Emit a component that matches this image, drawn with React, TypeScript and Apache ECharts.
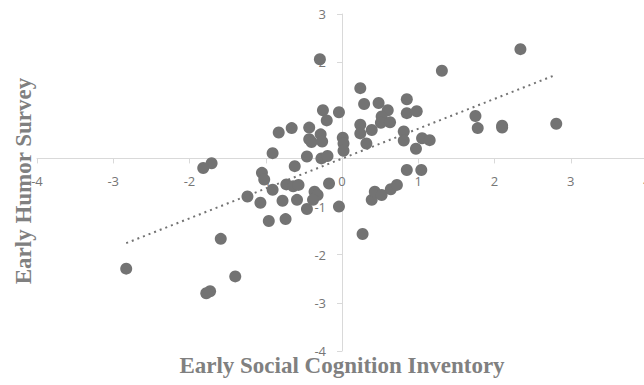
import React, { useEffect, useRef } from "react";
import * as echarts from "echarts";

const xValues = [
  -0.29, 1.31, 2.34, 0.24, 0.29, 0.48, 0.6, 0.85, 0.85, 0.98, -0.25, -0.04, -0.2, 0.52, 0.51, 0.63,
  0.24, 0.24, 0.39, 0.32, 0.81, 0.81, 0.97, 1.05, 1.15, 1.75, 1.78, 2.1, 2.1, 2.81, -0.83, -0.66,
  -0.43, -0.43, -0.4, -0.28, -0.26, 0.01, 0.02, 0.02, -0.46, -0.27, -0.19, -0.91,
  -0.62, 0.85, 1.04, -1.71, -1.82, -1.05, -1.02, -0.91, -1.24, -1.07, -0.78, -0.73, -0.64, -0.57,
  -0.59, -0.46, -0.36, -0.32, -0.38, -0.17, -0.04, -0.96, -0.74, -1.59, 0.27, 0.39, 0.43, 0.52,
  0.64, 0.72, -1.4, -1.73, -1.78, -2.83,
];
const yValues = [
  2.06, 1.82, 2.27, 1.46, 1.13, 1.15, 1.0, 1.23, 0.94, 0.98, 1.0, 0.96, 0.79, 0.87, 0.74, 0.75,
  0.7, 0.52, 0.59, 0.31, 0.56, 0.37, 0.2, 0.42, 0.38, 0.88, 0.63, 0.68, 0.64, 0.72, 0.54, 0.63,
  0.64, 0.4, 0.34, 0.5, 0.35, 0.43, 0.31, 0.16, 0.04, 0.0, 0.05, 0.11,
  -0.16, -0.24, -0.24, -0.1, -0.2, -0.3, -0.44, -0.65, -0.79, -0.92, -0.88, -0.54, -0.58, -0.55,
  -0.86, -1.05, -0.69, -0.76, -0.86, -0.52, -1.0, -1.3, -1.26, -1.67, -1.57, -0.86, -0.69, -0.76,
  -0.64, -0.55, -2.45, -2.76, -2.8, -2.29,
];
const trendX = [-2.83, 2.81];
const trendY = [-1.76, 1.74];

const xTitle = "Early Social Cognition Inventory";
const yTitle = "Early Humor Survey";

const W = 644;
const H = 385;
const GRID_LEFT = 37;
const GRID_RIGHT = -3;
const GRID_TOP = 14;
const GRID_BOTTOM = 34;

export default function App() {
  const ref = useRef<HTMLDivElement>(null);
  useEffect(() => {
    if (!ref.current) return;
    const chart = echarts.init(ref.current, null, { renderer: "svg" });
    const axisColor = "#d9d9d9";
    const labelStyle = { color: "#767676", fontSize: 13, fontFamily: "'Open Sans', 'Liberation Sans', sans-serif" };
    const xMin = -4, xMax = 4, yMin = -4, yMax = 3;
    const gridW = W - GRID_LEFT - GRID_RIGHT;
    const gridH = H - GRID_TOP - GRID_BOTTOM;
    // distance from grid edge to the zero line of the other axis
    const xAxisOffset = -(gridH * (0 - yMin)) / (yMax - yMin);
    const yAxisOffset = -(gridW * (0 - xMin)) / (xMax - xMin);
    chart.setOption({
      animation: false,
      backgroundColor: "#ffffff",
      grid: { left: GRID_LEFT, right: GRID_RIGHT, top: GRID_TOP, bottom: GRID_BOTTOM, containLabel: false, outerBoundsMode: "none" },
      xAxis: {
        type: "value",
        min: xMin,
        max: xMax,
        interval: 1,
        position: "bottom",
        offset: xAxisOffset,
        splitLine: { show: false },
        axisLine: { show: true, onZero: false, lineStyle: { color: axisColor, width: 1 } },
        axisTick: { show: true, length: 5, lineStyle: { color: axisColor } },
        axisLabel: { ...labelStyle, margin: 16, showMinLabel: true, showMaxLabel: true },
      },
      yAxis: {
        type: "value",
        min: yMin,
        max: yMax,
        interval: 1,
        position: "left",
        offset: yAxisOffset,
        splitLine: { show: false },
        axisLine: { show: true, onZero: false, lineStyle: { color: axisColor, width: 1 } },
        axisTick: { show: true, length: 5, lineStyle: { color: axisColor } },
        axisLabel: { ...labelStyle, margin: 16, showMinLabel: true, showMaxLabel: true },
      },
      series: [
        {
          type: "scatter",
          data: xValues.map((x, i) => [x, yValues[i]]),
          symbol: "circle",
          symbolSize: 12,
          itemStyle: { color: "#737373", opacity: 1 },
          z: 3,
        },
        {
          type: "line",
          data: trendX.map((x, i) => [x, trendY[i]]),
          symbol: "none",
          lineStyle: { color: "#737373", width: 2, type: [2, 4] },
          z: 4,
        },
      ],
      graphic: [
        {
          type: "text",
          x: 342,
          y: 365,
          style: {
            text: xTitle,
            fill: "#808080",
            font: "bold 23px 'Liberation Serif', 'Times New Roman', serif",
            textAlign: "center",
            textVerticalAlign: "middle",
          },
        },
        {
          type: "text",
          x: 23,
          y: 181,
          rotation: Math.PI / 2,
          style: {
            text: yTitle,
            fill: "#808080",
            font: "bold 23px 'Liberation Serif', 'Times New Roman', serif",
            textAlign: "center",
            textVerticalAlign: "middle",
          },
        },
      ],
    });
    return () => chart.dispose();
  }, []);
  return (
    <div
      ref={ref}
      style={{ position: "absolute", left: 0, top: 0, width: W, height: H }}
    />
  );
}
